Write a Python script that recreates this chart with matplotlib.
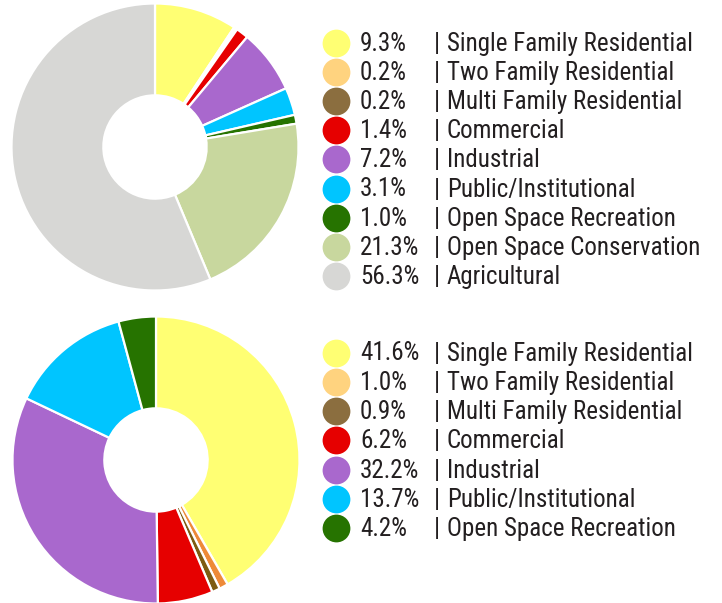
import matplotlib
matplotlib.use("Agg")
import matplotlib.pyplot as plt
from matplotlib import font_manager

names = {f.name for f in font_manager.fontManager.ttflist}
FAM = [f for f in ["Roboto Condensed", "PT Sans Narrow", "Archivo Narrow"] if f in names][:1] + ["DejaVu Sans"]

categories_top = ["Single Family Residential", "Two Family Residential", "Multi Family Residential",
                  "Commercial", "Industrial", "Public/Institutional", "Open Space Recreation",
                  "Open Space Conservation", "Agricultural"]
values_top = [9.3, 0.2, 0.2, 1.4, 7.2, 3.1, 1.0, 21.3, 56.3]
labels_top = ["9.3%", "0.2%", "0.2%", "1.4%", "7.2%", "3.1%", "1.0%", "21.3%", "56.3%"]

categories_bot = categories_top[:7]
values_bot = [41.6, 1.0, 0.9, 6.2, 32.2, 13.7, 4.2]
labels_bot = ["41.6%", "1.0%", "0.9%", "6.2%", "32.2%", "13.7%", "4.2%"]

legend_colors = ["#ffff73", "#ffd37f", "#8b6e3f", "#e60000", "#a968cd", "#00c5ff",
                 "#267300", "#c8d79e", "#d7d7d5"]
wedge_colors_top = legend_colors
wedge_colors_bot = ["#ffff73", "#ee8a38", "#7d5c12", "#e60000", "#a968cd", "#00c5ff", "#267300"]

W, H = 722, 603
fig = plt.figure(figsize=(W / 100, H / 100), dpi=100)

def pie_axes(cx, cy, r):
    return fig.add_axes([(cx - r) / W, 1 - (cy + r) / H, 2 * r / W, 2 * r / H])

for (cx, cy), vals, cols in [((155, 147), values_top, wedge_colors_top),
                             ((156, 460), values_bot, wedge_colors_bot)]:
    ax = pie_axes(cx, cy, 143.5)
    ax.pie(vals, colors=cols, startangle=90, counterclock=False, radius=1,
           wedgeprops=dict(width=0.64, edgecolor="white", linewidth=1.6))
    ax.set_xlim(-1, 1)
    ax.set_ylim(-1, 1)
    ax.set_aspect("equal")
    ax.axis("off")

lax = fig.add_axes([0, 0, 1, 1])
lax.set_xlim(0, W)
lax.set_ylim(H, 0)
lax.axis("off")

def legend(y0, step, labels, cats):
    for i, (lab, cat) in enumerate(zip(labels, cats)):
        y = y0 + i * step
        lax.plot([336], [y], "o", ms=20, color=legend_colors[i], mec="none")
        kw = dict(va="center", ha="left", fontsize=18, color="#231f20", family=FAM)
        lax.text(360, y + 1, lab, **kw)
        lax.text(434, y + 1, "|", **kw)
        lax.text(447, y + 1, cat, **kw)

legend(43, 29.1, labels_top, categories_top)
legend(352.5, 29.3, labels_bot, categories_bot)

fig.savefig("out.png", dpi=100)
